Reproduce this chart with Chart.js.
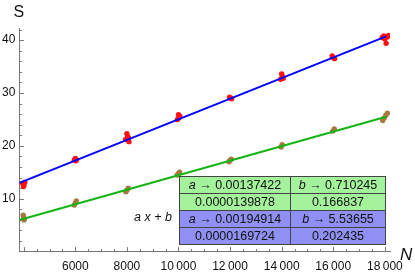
<!DOCTYPE html>
<html>
<head>
<meta charset="utf-8">
<script src="https://cdn.jsdelivr.net/npm/chart.js@4/dist/chart.umd.min.js"></script>
<style>
  html, body { margin: 0; padding: 0; background: #fff; }
  #wrap { position: relative; width: 415px; height: 275px; }
  canvas { position: absolute; left: 0; top: 0; }
  #fit { position: absolute; left: 179px; top: 176px; border-collapse: collapse;
         font-family: "Liberation Sans", Arial, sans-serif; font-size: 12.5px; color: #111; }
  #fit td { border: 1px solid #444; padding: 0; height: 16px; line-height: 16px; text-align: center; }
  #fit td.c1 { width: 110px; }
  #fit td.c2 { width: 94px; }
  #fit tr.g td { background: #a4f29c; }
  #fit tr.b td { background: #9090f4; }
  #fit i { font-style: italic; }
  #lbl { position: absolute; left: 134px; top: 210px; font-family: "Liberation Sans", Arial, sans-serif;
         font-size: 12.5px; font-style: italic; color: #111; }
</style>
</head>
<body>
<div id="wrap">
<canvas id="c" width="415" height="275"></canvas>
<div id="lbl">a x + b</div>
<table id="fit">
  <tr class="g"><td class="c1"><i>a</i> → 0.00137422</td><td class="c2"><i>b</i> → 0.710245</td></tr>
  <tr class="g"><td class="c1">0.0000139878</td><td class="c2">0.166837</td></tr>
  <tr class="b"><td class="c1"><i>a</i> → 0.00194914</td><td class="c2"><i>b</i> → 5.53655</td></tr>
  <tr class="b"><td class="c1">0.0000169724</td><td class="c2">0.202435</td></tr>
</table>
</div>
<script>
// ---- data ----
const xTickLabels = [6000, 8000, 10000, 12000, 14000, 16000, 18000];
const yTickLabels = [10, 20, 30, 40];

const redN = [3960, 4010, 4040, 3990,
              5960, 6000, 6050, 6020,
              7950, 8000, 8030, 8060, 8080,
              9960, 10000, 10050, 10020,
              11980, 12020, 12060,
              13960, 14000, 14030, 14060,
              15960, 16000, 16050,
              17900, 17960, 18000, 18050, 18100, 18150];
const redS = [12.9, 12.6, 13.1, 12.3,
              17.3, 17.6, 17.4, 17.2,
              21.2, 22.3, 21.8, 21.5, 20.8,
              25.0, 25.9, 25.6, 25.3,
              29.2, 29.0, 28.9,
              32.6, 33.6, 33.1, 32.8,
              37.0, 36.7, 36.5,
              40.5, 40.8, 40.2, 39.4, 40.6, 40.9];

const brownN = [3980, 4000, 4030, 4010,
                5960, 6000, 6040,
                7960, 8000, 8050,
                9950, 10000, 10040,
                11960, 12000, 12050,
                13980, 14020,
                15980, 16040,
                17920, 17980, 18040, 18100];
const brownS = [6.9, 6.5, 6.2, 6.0,
                8.8, 9.2, 9.6,
                11.3, 11.6, 12.0,
                14.5, 14.8, 15.0,
                17.0, 17.3, 17.5,
                19.8, 20.2,
                22.8, 23.2,
                24.8, 25.3, 25.8, 26.2];

const fitBlue = { a: 0.00194914, b: 5.53655 };
const fitGreen = { a: 0.00137422, b: 0.710245 };
const lineN = [3830, 18050];

const xMin = 3830, xMax = 18200, yMin = 0, yMax = 42.3;

const pts = (xs, ys) => xs.map((x, i) => ({ x: x, y: ys[i] }));
const fitPts = f => lineN.map(x => ({ x: x, y: f.a * x + f.b }));

const fmt = v => {
  const s = String(v);
  return s.length > 4 ? s.slice(0, s.length - 3) + '\u2009' + s.slice(-3) : s;
};

const tickPlugin = {
  id: 'innerTicks',
  beforeDatasetsDraw(chart) {
    const ctx = chart.ctx, xs = chart.scales.x, ys = chart.scales.y, a = chart.chartArea;
    ctx.save();
    ctx.strokeStyle = '#777';
    ctx.lineWidth = 1;
    ctx.beginPath();
    for (let v = 4000; v <= 18000; v += 500) {
      const px = Math.round(xs.getPixelForValue(v)) + 0.5;
      const len = v % 2000 === 0 ? 4.5 : 2.5;
      ctx.moveTo(px, a.bottom);
      ctx.lineTo(px, a.bottom - len);
    }
    for (let v = 2; v <= 42; v += 2) {
      const py = Math.round(ys.getPixelForValue(v)) + 0.5;
      const len = v % 10 === 0 ? 4.5 : 2.5;
      ctx.moveTo(a.left, py);
      ctx.lineTo(a.left + len, py);
    }
    ctx.stroke();
    ctx.restore();
  },
  afterDraw(chart) {
    const ctx = chart.ctx, a = chart.chartArea;
    ctx.save();
    ctx.fillStyle = '#111';
    ctx.textBaseline = 'alphabetic';
    ctx.font = '16px "Liberation Sans", Arial, sans-serif';
    ctx.textAlign = 'center';
    ctx.fillText('S', a.left - 0.5, a.top - 11);
    ctx.font = 'italic 17px "Liberation Sans", Arial, sans-serif';
    ctx.textAlign = 'left';
    ctx.fillText('N', a.right + 10, a.bottom + 8);
    ctx.restore();
  }
};

new Chart(document.getElementById('c'), {
  type: 'scatter',
  data: {
    datasets: [
      { type: 'line', data: fitPts(fitBlue), borderColor: '#0000ff', borderWidth: 2, pointRadius: 0, fill: false, order: 0 },
      { type: 'line', data: fitPts(fitGreen), borderColor: '#14b414', borderWidth: 2, pointRadius: 0, fill: false, order: 0 },
      { data: pts(redN, redS), backgroundColor: '#ff1010', borderWidth: 0, pointRadius: 2.7, order: 1 },
      { data: pts(brownN, brownS), backgroundColor: '#a9783f', borderWidth: 0, pointRadius: 2.7, order: 1 }
    ]
  },
  options: {
    responsive: false,
    devicePixelRatio: 1,
    animation: false,
    layout: { padding: { top: 28, right: 25, left: -2, bottom: -7 } },
    plugins: { legend: { display: false }, tooltip: { enabled: false } },
    scales: {
      x: {
        type: 'linear', min: xMin, max: xMax,
        afterBuildTicks: s => { s.ticks = xTickLabels.map(v => ({ value: v })); },
        grid: { display: false, drawTicks: false, tickLength: 0 },
        border: { display: true, color: '#777', width: 1 },
        ticks: { callback: v => fmt(v), color: '#111', padding: 8, maxRotation: 0, autoSkip: false,
                 font: { family: '"Liberation Sans", Arial, sans-serif', size: 12 } }
      },
      y: {
        type: 'linear', min: yMin, max: yMax,
        afterBuildTicks: s => { s.ticks = yTickLabels.map(v => ({ value: v })); },
        grid: { display: false, drawTicks: false, tickLength: 0 },
        border: { display: true, color: '#777', width: 1 },
        ticks: { callback: v => String(v), color: '#111', padding: 4, autoSkip: false,
                 font: { family: '"Liberation Sans", Arial, sans-serif', size: 12 } }
      }
    }
  },
  plugins: [tickPlugin]
});
</script>
</body>
</html>
